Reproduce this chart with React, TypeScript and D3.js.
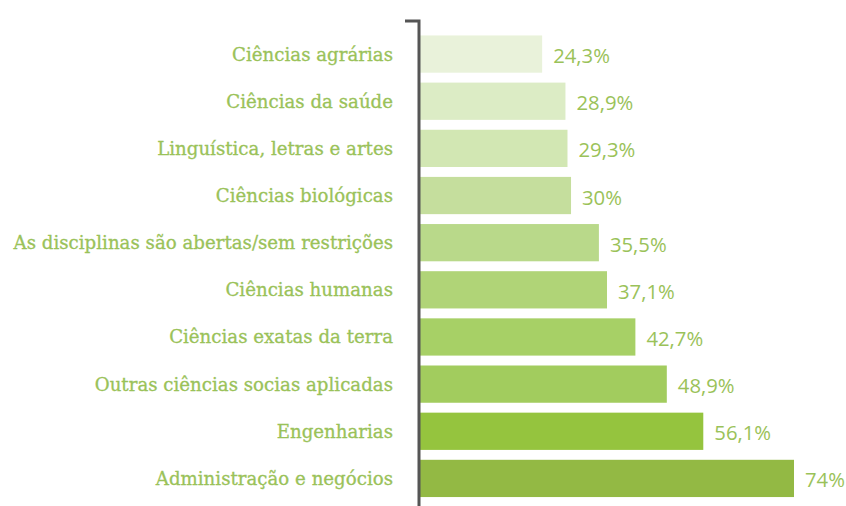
import React from "react";
import * as d3 from "d3";

const categories = [
  "Ciências agrárias",
  "Ciências da saúde",
  "Linguística, letras e artes",
  "Ciências biológicas",
  "As disciplinas são abertas/sem restrições",
  "Ciências humanas",
  "Ciências exatas da terra",
  "Outras ciências socias aplicadas",
  "Engenharias",
  "Administração e negócios",
];
const values = [24.3, 28.9, 29.3, 30, 35.5, 37.1, 42.7, 48.9, 56.1, 74];
const valueLabels = ["24,3%", "28,9%", "29,3%", "30%", "35,5%", "37,1%", "42,7%", "48,9%", "56,1%", "74%"];
const colors = [
  "#e9f2da", "#dcecc5", "#d2e7b3", "#c5de9d", "#b9d98a",
  "#b0d477", "#a7d066", "#a2cc5e", "#95c43e", "#93b944",
];

const W = 846;
const H = 506;
const axisX = 419;
const textColor = "#9ac259";

export default function App() {
  const x = d3.scaleLinear().domain([0, 74]).range([axisX, 794]);
  const y = d3.scaleBand<string>().domain(categories).range([30.5, 502]).paddingInner(0.21).paddingOuter(0.105);

  return (
    <svg width={W} height={H} style={{ position: "absolute", left: 0, top: 0 }}>
      <rect width={W} height={H} fill="#ffffff" />
      {categories.map((c, i) => {
        const yy = y(c)!;
        const bw = y.bandwidth();
        return (
          <g key={c}>
            <rect x={x(0) + 1} y={yy} width={x(values[i]) - x(0) - 1} height={bw} fill={colors[i]} />
            <text
              x={393}
              y={yy + bw / 2}
              textAnchor="end"
              dominantBaseline="central"
              fontFamily="'DejaVu Serif', serif"
              fontSize={18.2}
              fill={textColor}
              stroke={textColor}
              strokeWidth={0.3}
            >
              {c}
            </text>
            <text
              x={x(values[i]) + 11}
              y={yy + bw / 2 + 1}
              textAnchor="start"
              dominantBaseline="central"
              fontFamily="'Open Sans', sans-serif"
              fontSize={20.3}
              fill={textColor}
            >
              {valueLabels[i]}
            </text>
          </g>
        );
      })}
      <path d={`M405,21 H${axisX} V${H}`} fill="none" stroke="#555555" strokeWidth={3} />
    </svg>
  );
}
